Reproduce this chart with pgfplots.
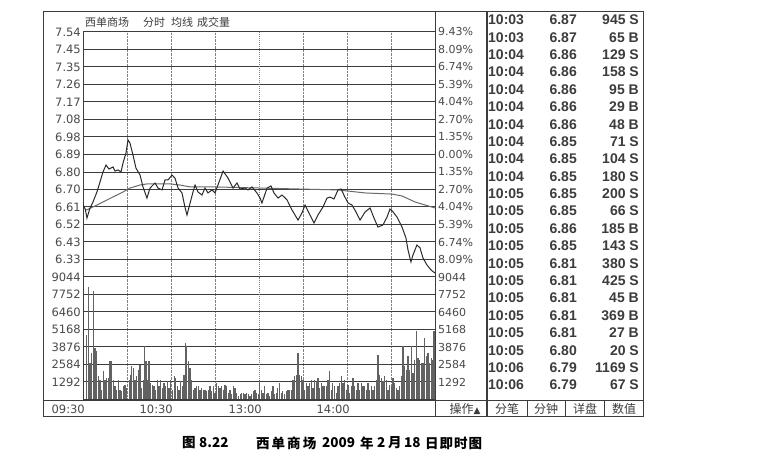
\documentclass[border=0pt]{standalone}
\usepackage{pgfplots}
\pgfplotsset{compat=1.18}
\usepackage{pgfplotstable}
\usepackage{fontspec}
\setmainfont{DejaVu Sans}
\newfontfamily\cjk{Noto Sans CJK SC}
\newfontfamily\tblf{Liberation Sans}
\definecolor{gridc}{HTML}{3C3C3C}
\definecolor{lblc}{HTML}{4A4A4A}
\definecolor{pricec}{HTML}{2A2A2A}
\definecolor{avgc}{HTML}{6A6A6A}
\definecolor{volc}{HTML}{626262}
\definecolor{dotc}{HTML}{808080}

\pgfplotstableread{
m p
0 6.625
1.5 6.600
2.7 6.553
4.8 6.606
6.8 6.638
9.5 6.691
11.6 6.744
13.6 6.797
15.7 6.834
17.7 6.813
20.5 6.824
21.8 6.802
23.9 6.808
25.9 6.797
27.3 6.845
29.3 6.898
30.7 6.967
32.0 6.951
34.1 6.887
36.1 6.818
38.9 6.781
40.9 6.718
43.6 6.659
45.7 6.712
49.1 6.739
51.1 6.712
53.9 6.702
55.9 6.755
58.0 6.755
60.7 6.781
62.7 6.765
64.8 6.712
67.5 6.686
69.5 6.611
70.9 6.569
72.3 6.611
75.0 6.691
76.4 6.728
78.4 6.691
81.1 6.675
83.2 6.712
85.2 6.686
88.0 6.702
90.0 6.686
92.0 6.728
95.5 6.802
98.9 6.765
102.3 6.712
105.0 6.739
107.0 6.707
110.5 6.712
112.5 6.702
115.2 6.718
118.6 6.686
120.7 6.659
122.0 6.633
125.5 6.712
128.2 6.723
130.2 6.686
133.0 6.659
135.7 6.675
139.1 6.649
142.5 6.596
146.6 6.542
149.3 6.580
151.4 6.622
154.8 6.569
157.5 6.527
160.2 6.569
163.6 6.611
166.4 6.659
168.4 6.664
171.1 6.654
173.9 6.702
175.9 6.707
178.6 6.664
180.7 6.633
183.4 6.622
186.1 6.585
188.9 6.542
192.3 6.585
195.7 6.606
198.4 6.553
201.1 6.505
204.5 6.516
207.3 6.558
209.3 6.601
211.4 6.585
214.1 6.558
217.5 6.505
220.2 6.447
221.6 6.383
223.6 6.320
225.0 6.357
227.7 6.410
229.8 6.394
231.8 6.341
234.5 6.304
237.3 6.277
240 6.261
}\pricetab

\pgfplotstableread{
m p
1.5 6.600
2.7 6.596
9.5 6.622
16.4 6.649
20.5 6.665
27.3 6.691
32.0 6.712
38.9 6.728
43.6 6.734
52.5 6.734
59.3 6.734
66.1 6.728
73.0 6.718
88.6 6.718
120.7 6.712
146.6 6.707
173.9 6.702
192.3 6.686
210.7 6.680
217.5 6.670
226.4 6.638
238.0 6.611
240 6.606
}\avgtab

\pgfplotstableread{
m v
2.5 4797
3.6 8315
4.8 2706
5.9 3444
7.0 7995
8.2 3813
9.3 3567
10.5 1722
11.6 1476
12.7 738
13.9 2091
15.0 1476
16.1 1599
17.3 1599
18.4 2829
19.5 2829
20.7 1476
21.8 984
22.9 738
24.1 1476
25.2 738
26.4 615
27.5 984
28.6 1107
29.8 861
31.6 1476
32.5 1845
33.2 2460
34.3 2337
35.5 1476
36.6 1722
37.7 2214
38.9 2583
40.0 861
41.1 1476
41.8 3936
43.0 2829
44.1 1476
45.0 2829
46.1 1230
47.3 1107
48.4 984
49.5 738
50.7 1476
51.8 984
52.9 1476
54.1 861
55.2 1230
56.4 984
57.5 1353
58.6 861
59.8 1476
60.9 738
62.1 1722
63.2 1599
64.3 984
65.5 738
66.6 1353
67.7 984
68.9 1845
69.8 4182
70.7 3936
71.8 2829
73.0 2337
74.1 1476
75.2 738
76.4 861
77.5 984
78.6 984
79.8 738
80.9 861
82.1 738
83.2 738
84.3 615
85.5 738
86.6 984
87.7 615
88.9 984
90.0 492
91.2 1230
92.3 984
93.4 861
94.6 984
95.7 738
96.8 1107
98.0 984
99.1 492
100.2 738
101.4 369
102.5 984
103.6 861
104.8 492
105.9 246
107.1 369
108.2 492
109.3 492
110.5 369
111.6 492
112.7 369
113.9 246
115.0 369
116.1 615
117.3 738
118.4 492
119.6 369
120.4 1476
121.6 738
122.7 492
123.8 984
125.0 369
126.1 492
127.3 246
128.4 615
129.5 984
130.7 369
131.8 492
132.9 861
134.1 1230
135.2 492
136.3 615
137.5 369
138.6 615
139.8 738
140.9 738
142.0 738
143.2 1476
144.3 1722
145.4 1845
146.6 3444
147.7 1845
148.9 1722
150.0 1476
151.1 738
152.3 1230
153.4 984
154.5 1230
155.7 1476
156.8 861
157.9 1476
159.1 1353
160.2 1599
161.4 861
162.5 1230
163.6 984
164.8 984
165.9 984
167.0 1476
168.2 2091
169.3 738
170.4 1230
171.6 984
172.7 492
173.9 984
175.0 1230
176.1 1722
177.3 1230
178.4 1476
179.5 738
180.7 1107
181.8 492
182.9 984
184.1 1599
185.2 984
186.4 738
187.5 1230
188.6 738
189.8 1230
190.9 984
192.0 984
193.2 738
194.3 1230
195.4 738
196.6 984
197.7 738
198.9 984
200.0 1476
201.1 3321
202.3 1845
203.4 1599
204.5 1353
205.7 1722
206.8 1476
207.9 738
209.1 1107
210.2 984
211.4 1599
212.5 1230
213.6 861
214.8 738
215.9 984
217.0 1722
218.2 3936
219.3 2460
220.4 2214
221.6 3198
222.7 2214
223.9 3936
225.0 1968
226.1 2952
227.3 5043
228.4 3075
229.5 2952
230.7 2706
231.8 2706
233.0 4551
234.1 3198
235.2 3444
236.4 2706
237.5 3075
238.6 2952
239.3 5043
239.8 2952
}\voltab

\begin{document}
\begin{tikzpicture}
\useasboundingbox (0,0) rectangle (770pt,465pt);
\fill[white] (0,0) rectangle (770pt,465pt);

% ---------- price panel ----------
\begin{axis}[at={(83pt,188pt)},anchor=south west,scale only axis,
  width=352pt,height=245pt,
  xmin=0,xmax=240,ymin=6.24,ymax=7.54,
  axis line style={gridc,line width=1pt},
  major tick length=0pt,
  xtick={30,60,90,150,180,210},
  xticklabels={},
  xmajorgrids,
  x grid style={dotc,densely dotted,line width=0.8pt},
  extra x ticks={120},extra x tick labels={},
  extra x tick style={grid style={solid,gridc,line width=1pt}},
  ytick={6.24,6.3329,6.4257,6.5186,6.6114,6.7043,6.7971,6.9829,7.0757,7.1686,7.2614,7.3543,7.4471,7.54},
  yticklabels={},
  ymajorgrids,
  y grid style={gridc,line width=1pt},
  extra y ticks={6.89},extra y tick labels={},
  extra y tick style={grid style={solid,gridc,line width=1.9pt}},
  clip=true]
\addplot[avgc,line width=1pt] table[x=m,y=p] {\avgtab};
\addplot[pricec,line width=1pt] table[x=m,y=p] {\pricetab};
\end{axis}

% ---------- volume panel ----------
\begin{axis}[at={(83pt,65.5pt)},anchor=south west,scale only axis,
  width=352pt,height=122.5pt,
  xmin=0,xmax=240,ymin=0,ymax=9044,
  axis line style={gridc,line width=1pt},
  major tick length=0pt,
  xtick={30,60,90,150,180,210},
  xticklabels={},
  xmajorgrids,
  x grid style={dotc,densely dotted,line width=0.8pt},
  extra x ticks={120},extra x tick labels={},
  extra x tick style={grid style={solid,gridc,line width=1pt}},
  ytick={0,1292,2584,3876,5168,6460,7752,9044},
  yticklabels={},
  ymajorgrids,
  y grid style={gridc,line width=1pt},
  scaled y ticks=false,
  clip=true]
\addplot[ycomb,volc,line width=1.15pt] table[x=m,y=v] {\voltab};
\end{axis}

% ---------- frame, labels, table (pixel coordinates) ----------
\begin{scope}[x=1pt,y=-1pt,yshift=465pt]
  \draw[gridc,line width=1pt] (43,12) rectangle (643,417);
  \draw[gridc,line width=1pt] (435,12) -- (435,417);
  \draw[gridc,line width=1.7pt] (487,12) -- (487,417);
  \draw[gridc,line width=1pt] (43,401) -- (643,401);
  \foreach \xx in {527,565,604} \draw[gridc,line width=0.9pt] (\xx,401) -- (\xx,417);

  % title
  \begin{scope}[every node/.style={anchor=west,inner sep=0pt,text=gridc,font=\cjk\fontsize{11}{13}\selectfont}]
    \node at (85,22) {西单商场};
    \node at (143,22) {分时};
    \node at (171,22) {均线};
    \node at (197,22) {成交量};
  \end{scope}

  % left labels
  \foreach \lab/\yy in {7.54/32,7.45/49.5,7.35/67,7.26/84.5,7.17/102,7.08/119.5,6.98/137,6.89/154.5,6.80/172,6.70/189.5,6.61/207,6.52/224.5,6.43/242,6.33/259.5,9044/277,7752/294.5,6460/312,5168/329.5,3876/347,2584/364.5,1292/382}
    \node[anchor=east,inner sep=0pt,text=lblc,font=\fontsize{11.5}{13}\selectfont] at (81,\yy) {\lab};
  % right labels
  \foreach \lab/\yy in {9.43\%/32,8.09\%/49.5,6.74\%/67,5.39\%/84.5,4.04\%/102,2.70\%/119.5,1.35\%/137,0.00\%/154.5,1.35\%/172,2.70\%/189.5,4.04\%/207,5.39\%/224.5,6.74\%/242,8.09\%/259.5,9044/277,7752/294.5,6460/312,5168/329.5,3876/347,2584/364.5,1292/382}
    \node[anchor=west,inner sep=0pt,text=lblc,font=\fontsize{11}{13}\selectfont] at (438,\yy) {\lab};

  % time labels
  \foreach \lab/\xx in {09:30/85,10:30/173,13:00/262,14:00/350}
    \node[anchor=east,inner sep=0pt,text=lblc,font=\fontsize{11.5}{13}\selectfont] at (\xx,409) {\lab};

  % tick table
  \foreach \t/\p/\v [count=\i from 0] in {10:03/6.87/945 S,10:03/6.87/65 B,10:04/6.86/129 S,10:04/6.86/158 S,10:04/6.86/95 B,10:04/6.86/29 B,10:04/6.86/48 B,10:04/6.85/71 S,10:04/6.85/104 S,10:04/6.85/180 S,10:05/6.85/200 S,10:05/6.85/66 S,10:05/6.86/185 B,10:05/6.85/143 S,10:05/6.81/380 S,10:05/6.81/425 S,10:05/6.81/45 B,10:05/6.81/369 B,10:05/6.81/27 B,10:05/6.80/20 S,10:06/6.79/1169 S,10:06/6.79/67 S}{
    \pgfmathsetmacro\yy{20+17.38*\i}
    \node[anchor=west,inner sep=0pt,text=gridc,font=\tblf\bfseries\fontsize{14}{16}\selectfont] at (488,\yy) {\t};
    \node[anchor=east,inner sep=0pt,text=gridc,font=\tblf\bfseries\fontsize{14}{16}\selectfont] at (577,\yy) {\p};
    \node[anchor=east,inner sep=0pt,text=gridc,font=\tblf\bfseries\fontsize{14}{16}\selectfont] at (639,\yy) {\v};
  }

  % tabs
  \begin{scope}[every node/.style={inner sep=0pt,text=gridc,font=\cjk\fontsize{12}{14}\selectfont}]
    \node at (465,409) {操作{\fontspec{DejaVu Sans}\fontsize{9}{10}\selectfont ▲}};
    \node at (507,409) {分笔};
    \node at (546,409) {分钟};
    \node at (585,409) {详盘};
    \node at (624,409) {数值};
  \end{scope}

  % caption
  \begin{scope}[every node/.style={anchor=west,inner sep=0pt,text=black,font=\cjk\bfseries\fontsize{13.5}{16}\selectfont}]
    \node at (182,443) {图};
    \node at (199,443) {8.22};
    \node at (256,443) {\addfontfeature{LetterSpace=15}西单商场};
    \node at (322,443) {2009};
    \node at (360,443) {年};
    \node at (377,443) {2};
    \node at (388,443) {月};
    \node at (404,443) {18};
    \node at (425,443) {\addfontfeature{LetterSpace=7}日即时图};
  \end{scope}
\end{scope}
\end{tikzpicture}
\end{document}
